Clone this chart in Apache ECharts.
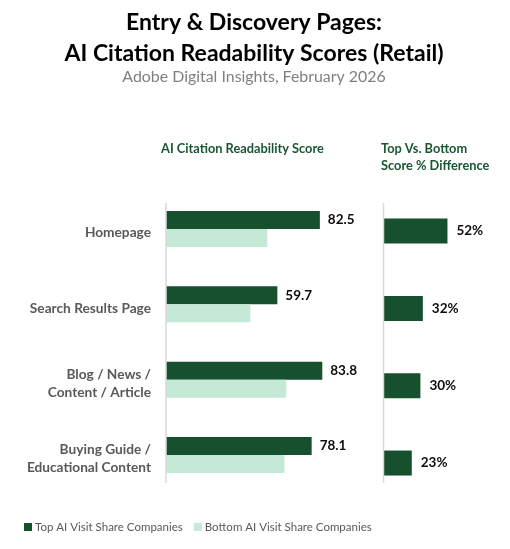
<!DOCTYPE html>
<html>
<head>
<meta charset="utf-8">
<script src="https://cdn.jsdelivr.net/npm/echarts@6/dist/echarts.min.js"></script>
<style>
html,body{margin:0;padding:0;background:#fff;}
#chart{width:510px;height:549px;}
</style>
</head>
<body>
<div id="chart"></div>
<script>
var categories = ['Homepage', 'Search Results Page', 'Blog / News /\nContent / Article', 'Buying Guide /\nEducational Content'];
var topScores = [82.5, 59.7, 83.8, 78.1];
var bottomScores = [54.3, 45.2, 64.5, 63.5];
var pctDiff = [52, 32, 30, 23];
var seriesNames = ['Top AI Visit Share Companies', 'Bottom AI Visit Share Companies', 'Top Vs. Bottom Score % Difference'];

var DARK = '#17502f';
var LIGHT = '#c4e9d6';
var FONT = 'Lato';

var chart = echarts.init(document.getElementById('chart'), null, {renderer: 'canvas'});
chart.setOption({
  backgroundColor: '#ffffff',
  animation: false,
  title: [
    {
      text: 'Entry & Discovery Pages:\nAI Citation Readability Scores (Retail)',
      left: 249, top: 2, textAlign: 'center',
      textStyle: {fontFamily: FONT, fontSize: 23, fontWeight: 'bold', color: '#000000', lineHeight: 31, align: 'center'}
    },
    {
      text: 'Adobe Digital Insights, February 2026',
      left: 249, top: 64, textAlign: 'center',
      textStyle: {fontFamily: FONT, fontSize: 15.9, fontWeight: 'normal', color: '#7f7f7f'}
    },
    {
      text: 'AI Citation Readability Score',
      left: 156, top: 137,
      textStyle: {fontFamily: FONT, fontSize: 12.8, fontWeight: 'bold', color: '#1a5632'}
    },
    {
      text: 'Top Vs. Bottom\nScore % Difference',
      left: 376, top: 135,
      textStyle: {fontFamily: FONT, fontSize: 12.8, fontWeight: 'bold', color: '#1a5632', lineHeight: 17}
    }
  ],
  legend: {
    data: [seriesNames[0], seriesNames[1]],
    left: 19, top: 516,
    icon: 'rect', itemWidth: 8, itemHeight: 8, itemGap: 11,
    textStyle: {fontFamily: FONT, fontSize: 11.5, color: '#595959', padding: [0, 0, 0, -2]}
  },
  grid: [
    {left: 166, top: 191.4, width: 186.5, height: 301.2},
    {left: 383.5, top: 192.4, width: 123, height: 309.3},
    {left: 166, top: 195.4, width: 186.5, height: 301.2}
  ],
  xAxis: [
    {type: 'value', gridIndex: 0, min: 0, max: 100, show: false},
    {type: 'value', gridIndex: 1, min: 0, max: 100, show: false},
    {type: 'value', gridIndex: 2, min: 0, max: 100, show: false}
  ],
  yAxis: [
    {
      type: 'category', gridIndex: 0, data: categories, inverse: true,
      axisLine: {show: false}, axisTick: {show: false}, splitLine: {show: false},
      axisLabel: {show: false}
    },
    {
      type: 'category', gridIndex: 1, data: categories, inverse: true,
      axisLine: {show: false}, axisTick: {show: false}, splitLine: {show: false},
      axisLabel: {show: false}
    },
    {
      type: 'category', gridIndex: 2, data: categories, inverse: true,
      axisLine: {show: false}, axisTick: {show: false}, splitLine: {show: false},
      axisLabel: {fontFamily: FONT, fontSize: 13.7, fontWeight: 'bold', color: '#595959', margin: 15, lineHeight: 18, align: 'right'}
    }
  ],
  graphic: [
    {type: 'line', shape: {x1: 166, y1: 203, x2: 166, y2: 483}, style: {stroke: '#d9d9d9', lineWidth: 1.5}, z: 100},
    {type: 'line', shape: {x1: 383.5, y1: 203, x2: 383.5, y2: 483}, style: {stroke: '#d9d9d9', lineWidth: 1.5}, z: 100}
  ],
  series: [
    {
      name: seriesNames[0], type: 'bar', xAxisIndex: 0, yAxisIndex: 0,
      data: topScores, barWidth: 18, barGap: '0%',
      itemStyle: {color: DARK},
      label: {show: true, position: 'right', distance: 8, fontFamily: FONT, fontSize: 13.5, fontWeight: 'bold', color: '#0d0d0d',
        formatter: function (p) { return p.value.toFixed(1); }}
    },
    {
      name: seriesNames[1], type: 'bar', xAxisIndex: 0, yAxisIndex: 0,
      data: bottomScores, barWidth: 18, barGap: '0%',
      itemStyle: {color: LIGHT}
    },
    {
      name: seriesNames[2], type: 'bar', xAxisIndex: 1, yAxisIndex: 1,
      data: pctDiff, barWidth: 25,
      itemStyle: {color: DARK},
      label: {show: true, position: 'right', distance: 9, fontFamily: FONT, fontSize: 13.5, fontWeight: 'bold', color: '#0d0d0d',
        formatter: '{c}%'}
    }
  ]
});
</script>
</body>
</html>
